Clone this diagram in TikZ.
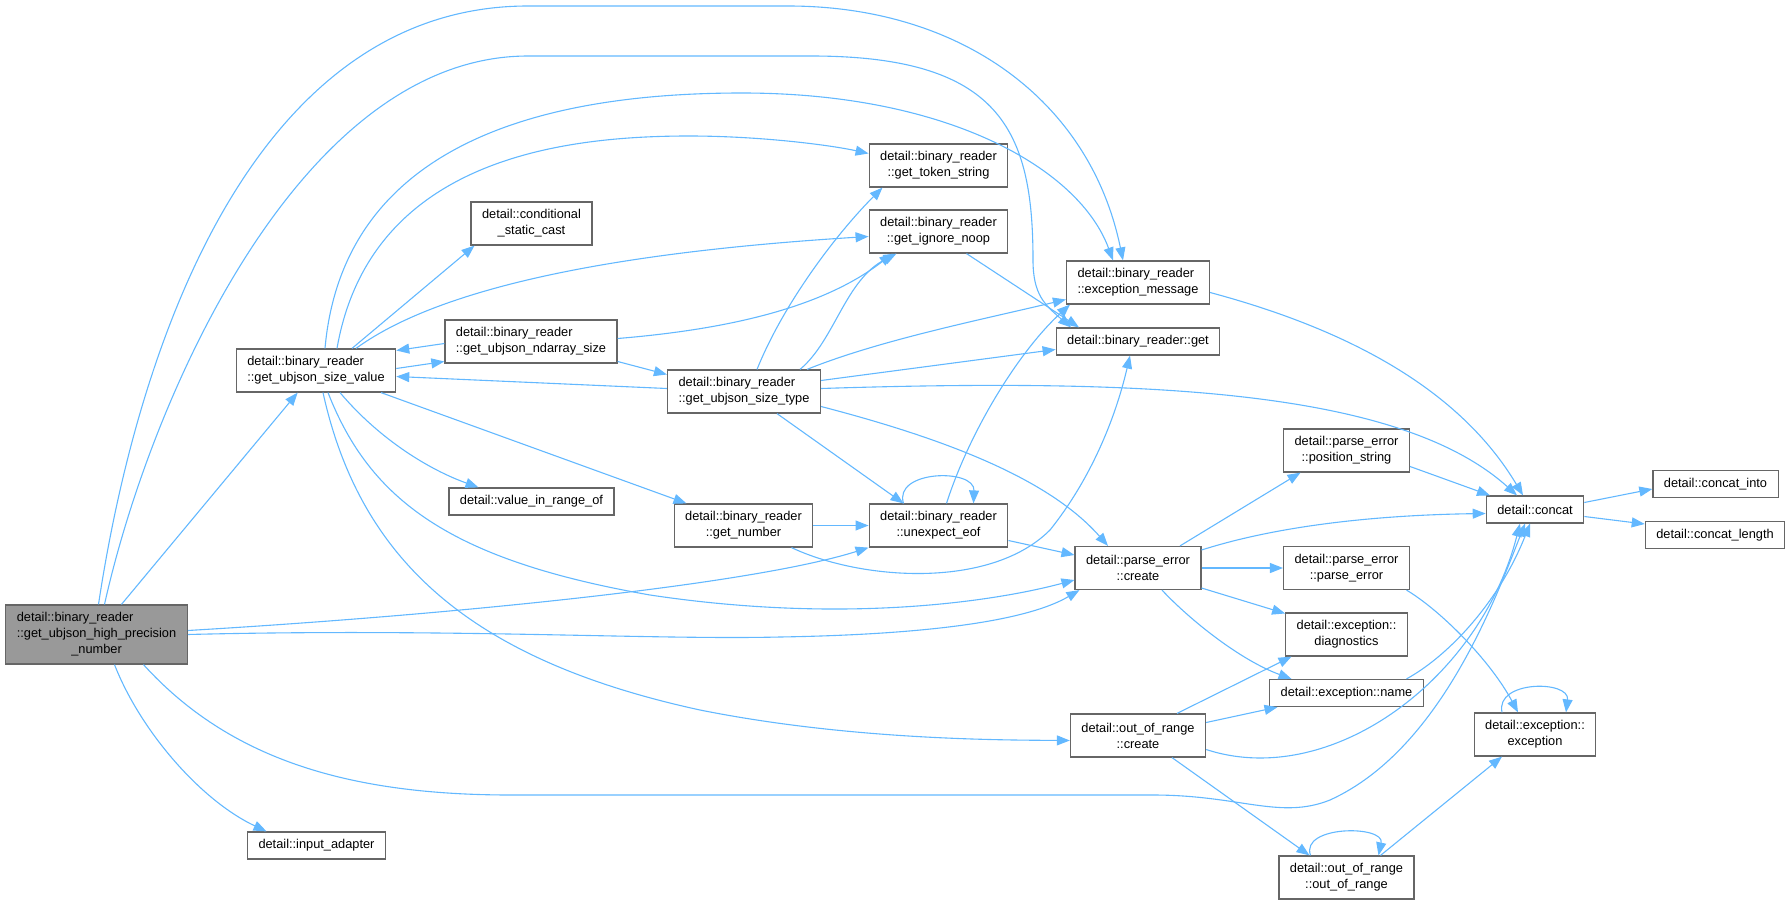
\documentclass[tikz,border=0pt]{standalone}
\usepackage{fontspec}
\setmainfont{Liberation Sans}
\usepackage{tikz}
\usetikzlibrary{arrows.meta}
\definecolor{edgeblue}{HTML}{63B8FF}
\definecolor{boxgray}{HTML}{666666}
\definecolor{rootgray}{HTML}{999999}
\tikzstyle{func} = [rectangle, draw=boxgray, line width=1.2bp, fill=white, minimum height=27bp, inner xsep=11bp, inner ysep=0bp, align=center, font=\fontsize{12.8bp}{16bp}\selectfont]
\tikzstyle{functwo} = [func, minimum height=43bp]
\tikzstyle{rootfunc} = [func, fill=rootgray, minimum height=59bp, align=left]
\tikzstyle{call} = [line width=1.1bp, ->, >={Triangle[length=13bp, width=10bp]}, draw=edgeblue]
\begin{document}
\begin{tikzpicture}[x=1bp, y=-1bp]
\useasboundingbox (0,0) rectangle (1792,904);

% Caller
\node (hp) [rootfunc] at (96.5,634.5) {detail::binary\_reader\\::get\_ubjson\_high\_precision\\\hspace*{54.5bp}\_number};

% First column
\node (sizevalue) [functwo, align=left] at (316,370.5) {detail::binary\_reader\\::get\_ubjson\_size\_value};
\node (inputadapter) [func] at (316.5,845.5) {detail::input\_adapter};

% Second column
\node (cond) [functwo] at (531.5,223.5) {detail::conditional\\\_static\_cast};
\node (ndarray) [functwo, align=left] at (531,341.5) {detail::binary\_reader\\::get\_ubjson\_ndarray\_size};
\node (inrange) [func] at (531.5,501.5) {detail::value\_in\_range\_of};

% Third column
\node (sizetype) [functwo, align=left] at (744,391.5) {detail::binary\_reader\\::get\_ubjson\_size\_type};
\node (getnumber) [functwo] at (743.5,525.5) {detail::binary\_reader\\::get\_number};

% Fourth column
\node (token) [functwo] at (938.5,165.5) {detail::binary\_reader\\::get\_token\_string};
\node (ignore) [functwo] at (938.5,231.5) {detail::binary\_reader\\::get\_ignore\_noop};
\node (eof) [functwo] at (938.5,525.5) {detail::binary\_reader\\::unexpect\_eof};

% Fifth column
\node (excmsg) [functwo, align=left] at (1138,282.5) {detail::binary\_reader\\::exception\_message};
\node (get) [func] at (1138,341.5) {detail::binary\_reader::get};
\node (pecreate) [functwo] at (1138,568) {detail::parse\_error\\::create};
\node (oorcreate) [functwo] at (1138,735.5) {detail::out\_of\_range\\::create};

% Sixth column
\node (posstr) [functwo] at (1346.5,450.5) {detail::parse\_error\\::position\_string};
\node (peparse) [functwo] at (1346.5,568) {detail::parse\_error\\::parse\_error};
\node (diag) [functwo] at (1346.5,634.5) {detail::exception::\\diagnostics};
\node (excname) [func] at (1346.5,693) {detail::exception::name};
\node (oor) [functwo] at (1346.5,877.5) {detail::out\_of\_range\\::out\_of\_range};

% Concat and exception
\node (concat) [func] at (1535,509.5) {detail::concat};
\node (exc) [functwo] at (1535,734.5) {detail::exception::\\exception};
\node (concatinto) [func] at (1715.5,484) {detail::concat\_into};
\node (concatlen) [func] at (1715,535) {detail::concat\_length};

% Arrows from the caller
\draw [call] (hp) -- (sizevalue);
\draw [call] ([xshift=18bp]hp.south) .. controls (140,730) and (200,800) .. ([xshift=-50bp]inputadapter.north);
\draw [call] ([xshift=2bp]hp.north) .. controls (140,330) and (260,6) .. (528,6) -- (788,6) .. controls (960,6) and (1090,100) .. ([xshift=-15bp]excmsg.north);
\draw [call] ([xshift=8bp]hp.north) .. controls (150,400) and (300,56) .. (528,56) -- (811,56) .. controls (1000,56) and (1033,130) .. (1033,260) .. controls (1033,295) and (1045,305) .. ([xshift=-67bp]get.north);
\draw [call] ([yshift=4bp]hp.east) .. controls (450,615) and (750,585) .. (eof.south west);
\draw [call] (hp.east) .. controls (450,628) and (650,640) .. (780,637) .. controls (900,635) and (1020,625) .. ([xshift=5bp]pecreate.south west);
\draw [call] ([xshift=47bp]hp.south) .. controls (230,760) and (350,795) .. (511,795) -- (1153,795) .. controls (1240,795) and (1280,820) .. (1330,800) .. controls (1440,750) and (1495,600) .. ([xshift=-10bp]concat.south);

% Arrows from get_ubjson_size_value
\draw [call] ([xshift=9bp]sizevalue.north) .. controls (340,180) and (480,93) .. (742,93) .. controls (950,93) and (1080,170) .. ([xshift=-25bp]excmsg.north);
\draw [call] ([xshift=21bp]sizevalue.north) .. controls (370,160) and (560,136) .. (689,136) .. controls (760,136) and (830,145) .. ([yshift=12bp]token.west);
\draw [call] ([xshift=36bp]sizevalue.north) -- ([xshift=-57bp]cond.south);
\draw [call] ([xshift=40bp]sizevalue.north) .. controls (450,280) and (650,250) .. ([yshift=-5bp]ignore.west);
\draw [call] ([yshift=2bp]sizevalue.east) -- ([yshift=-20bp]ndarray.west);
\draw [call] ([xshift=24bp]sizevalue.south) .. controls (380,440) and (430,470) .. ([xshift=-53bp]inrange.north);
\draw [call] ([xshift=65bp]sizevalue.south) -- ([xshift=-57bp]getnumber.north);
\draw [call] ([xshift=12bp]sizevalue.south) .. controls (370,500) and (450,560) .. (650,595) .. controls (850,625) and (1000,600) .. ([yshift=-12bp]pecreate.west);
\draw [call] ([xshift=7bp]sizevalue.south) .. controls (360,560) and (470,660) .. (700,710) .. controls (850,740) and (1000,740) .. ([yshift=-5bp]oorcreate.west);

% Arrows from get_ubjson_ndarray_size
\draw [call] ([yshift=-2bp]ndarray.west) -- ([yshift=20bp]sizevalue.east);
\draw [call] ([yshift=-20bp]ndarray.east) -- ([yshift=17bp]sizetype.west);
\draw [call] ([yshift=3bp]ndarray.east) .. controls (720,330) and (820,310) .. ([xshift=-46bp]ignore.south);

% Arrows from get_ubjson_size_type
\draw [call] ([yshift=3bp]sizetype.west) -- ([yshift=-6bp]sizevalue.east);
\draw [call] ([xshift=13bp]sizetype.north) .. controls (785,300) and (840,230) .. ([xshift=-56bp]token.south);
\draw [call] ([xshift=56bp]sizetype.north) .. controls (835,340) and (845,280) .. ([xshift=-42bp]ignore.south);
\draw [call] ([xshift=63bp]sizetype.north) .. controls (880,340) and (980,320) .. ([yshift=-17bp]excmsg.west);
\draw [call] ([yshift=11bp]sizetype.east) -- ([yshift=-8bp]get.west);
\draw [call] ([yshift=3bp]sizetype.east) .. controls (1150,378) and (1400,390) .. ([xshift=-18bp]concat.north);
\draw [call] ([xshift=33bp]sizetype.south) -- ([xshift=-35bp]eof.north);
\draw [call] ([yshift=-15bp]sizetype.east) .. controls (950,440) and (1050,480) .. ([xshift=-30bp]pecreate.north);

% Arrows from the readers
\draw [call] ([xshift=28bp]ignore.south) -- ([xshift=-59bp]get.north);
\draw [call] (getnumber) -- (eof);
\draw [call] ([xshift=48bp]getnumber.south) .. controls (860,580) and (990,590) .. (1050,530) .. controls (1090,480) and (1115,420) .. ([xshift=-8bp]get.south);
\draw [call] ([xshift=-35bp]eof.north) .. controls (893,470) and (975,468) .. ([xshift=35bp]eof.north);
\draw [call] ([xshift=8bp]eof.north) .. controls (970,430) and (1020,350) .. ([xshift=-68bp]excmsg.south);
\draw [call] ([yshift=-15bp]eof.east) -- ([yshift=13bp]pecreate.west);
\draw [call] ([yshift=-10bp]excmsg.east) .. controls (1350,330) and (1460,390) .. ([xshift=-12bp]concat.north);

% Arrows from parse_error::create
\draw [call] ([xshift=42bp]pecreate.north) -- ([xshift=-46bp]posstr.south);
\draw [call] ([yshift=18bp]pecreate.east) .. controls (1280,525) and (1380,515) .. ([yshift=-4bp]concat.west);
\draw [call] (pecreate) -- (peparse);
\draw [call] ([yshift=-20bp]pecreate.east) -- ([yshift=21bp]diag.west);
\draw [call] ([xshift=24bp]pecreate.south) .. controls (1190,620) and (1240,660) .. ([xshift=-55bp]excname.north);
\draw [call] ([yshift=-16bp]posstr.east) -- ([xshift=-45bp]concat.north);

% Arrows from concat
\draw [call] ([yshift=7bp]concat.east) -- ([yshift=-5bp]concatinto.west);
\draw [call] ([yshift=-7bp]concat.east) -- ([yshift=11bp]concatlen.west);

% Arrows into exception and concat
\draw [call] ([xshift=60bp]peparse.south) .. controls (1440,610) and (1490,660) .. ([xshift=-17bp]exc.north);
\draw [call] ([xshift=60bp]excname.north) .. controls (1450,655) and (1500,600) .. ([xshift=-5bp]concat.south);
\draw [call] ([xshift=-33bp]exc.north) .. controls (1495,680) and (1570,680) .. ([xshift=31bp]exc.north);

% Arrows from out_of_range::create
\draw [call] ([xshift=39bp]oorcreate.north) -- ([xshift=-55bp]diag.south);
\draw [call] ([yshift=13bp]oorcreate.east) -- ([xshift=-69bp]excname.south);
\draw [call] ([yshift=-14bp]oorcreate.east) .. controls (1330,790) and (1480,680) .. ([xshift=-15bp]concat.south);
\draw [call] ([xshift=34bp]oorcreate.south) -- ([xshift=-37bp]oor.north);
\draw [call] ([xshift=-36bp]oor.north) .. controls (1300,825) and (1385,825) .. ([xshift=32bp]oor.north);
\draw [call] ([xshift=34bp]oor.north) -- ([xshift=-33bp]exc.south);

\end{tikzpicture}
\end{document}
